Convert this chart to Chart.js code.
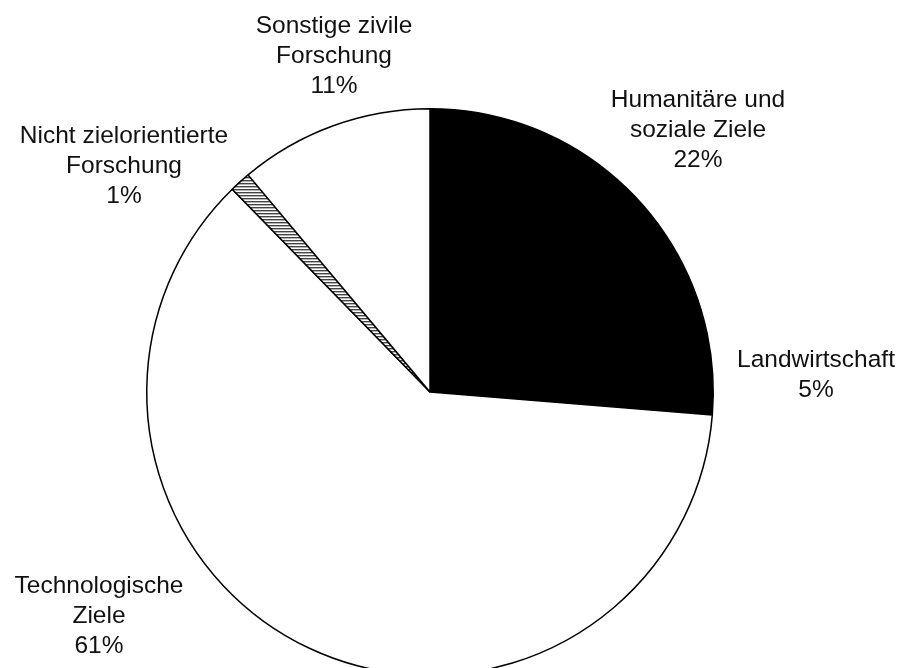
<!DOCTYPE html>
<html>
<head>
<meta charset="utf-8">
<script src="https://cdn.jsdelivr.net/npm/chart.js@4/dist/chart.umd.min.js"></script>
<style>
  html, body { margin: 0; padding: 0; background: #fff; overflow: hidden; }
  canvas { display: block; }
</style>
</head>
<body>
<canvas id="pie" width="898" height="700"></canvas>
<script>
// slices clockwise from 12 o'clock
const categories = [
  ["Humanitäre und", "soziale Ziele"],
  ["Landwirtschaft"],
  ["Technologische", "Ziele"],
  ["Nicht zielorientierte", "Forschung"],
  ["Sonstige zivile", "Forschung"]
];
// slice sizes (labels are rounded)
const shares = [21.7, 4.6, 61.4, 1.2, 11.1];
const percentLabels = ["22%", "5%", "61%", "1%", "11%"];

// label anchor (centre x, first baseline y)
const labelSpots = [[698, 107], [816, 367], [99, 593], [124, 143], [334, 33]];

function hatch() {
  const c = document.createElement('canvas');
  c.width = 4; c.height = 3;
  const g = c.getContext('2d');
  g.fillStyle = '#fff';
  g.fillRect(0, 0, 4, 3);
  g.fillStyle = '#444';
  g.fillRect(0, 0, 4, 1.4);
  return g.createPattern(c, 'repeat');
}

const labelPlugin = {
  id: 'outsideLabels',
  afterDraw(chart) {
    const ctx = chart.ctx;
    ctx.save();
    ctx.font = '24.5px "Liberation Sans", Arial, sans-serif';
    ctx.fillStyle = '#111';
    ctx.textAlign = 'center';
    ctx.textBaseline = 'alphabetic';
    categories.forEach((lines, i) => {
      const [x, y] = labelSpots[i];
      const all = lines.concat([percentLabels[i]]);
      all.forEach((t, k) => ctx.fillText(t, x, y + k * 30));
    });
    ctx.restore();
  }
};

new Chart(document.getElementById('pie'), {
  type: 'pie',
  data: {
    labels: categories.map(l => l.join(' ')),
    datasets: [{
      data: shares,
      backgroundColor: ['#000', '#000', '#fff', hatch(), '#fff'],
      borderColor: '#000',
      borderWidth: 1.5
    }]
  },
  options: {
    responsive: false,
    animation: false,
    devicePixelRatio: 1,
    layout: { padding: { left: 145, right: 183, top: 108, bottom: 24 } },
    plugins: {
      legend: { display: false },
      tooltip: { enabled: false }
    }
  },
  plugins: [labelPlugin]
});
</script>
</body>
</html>
